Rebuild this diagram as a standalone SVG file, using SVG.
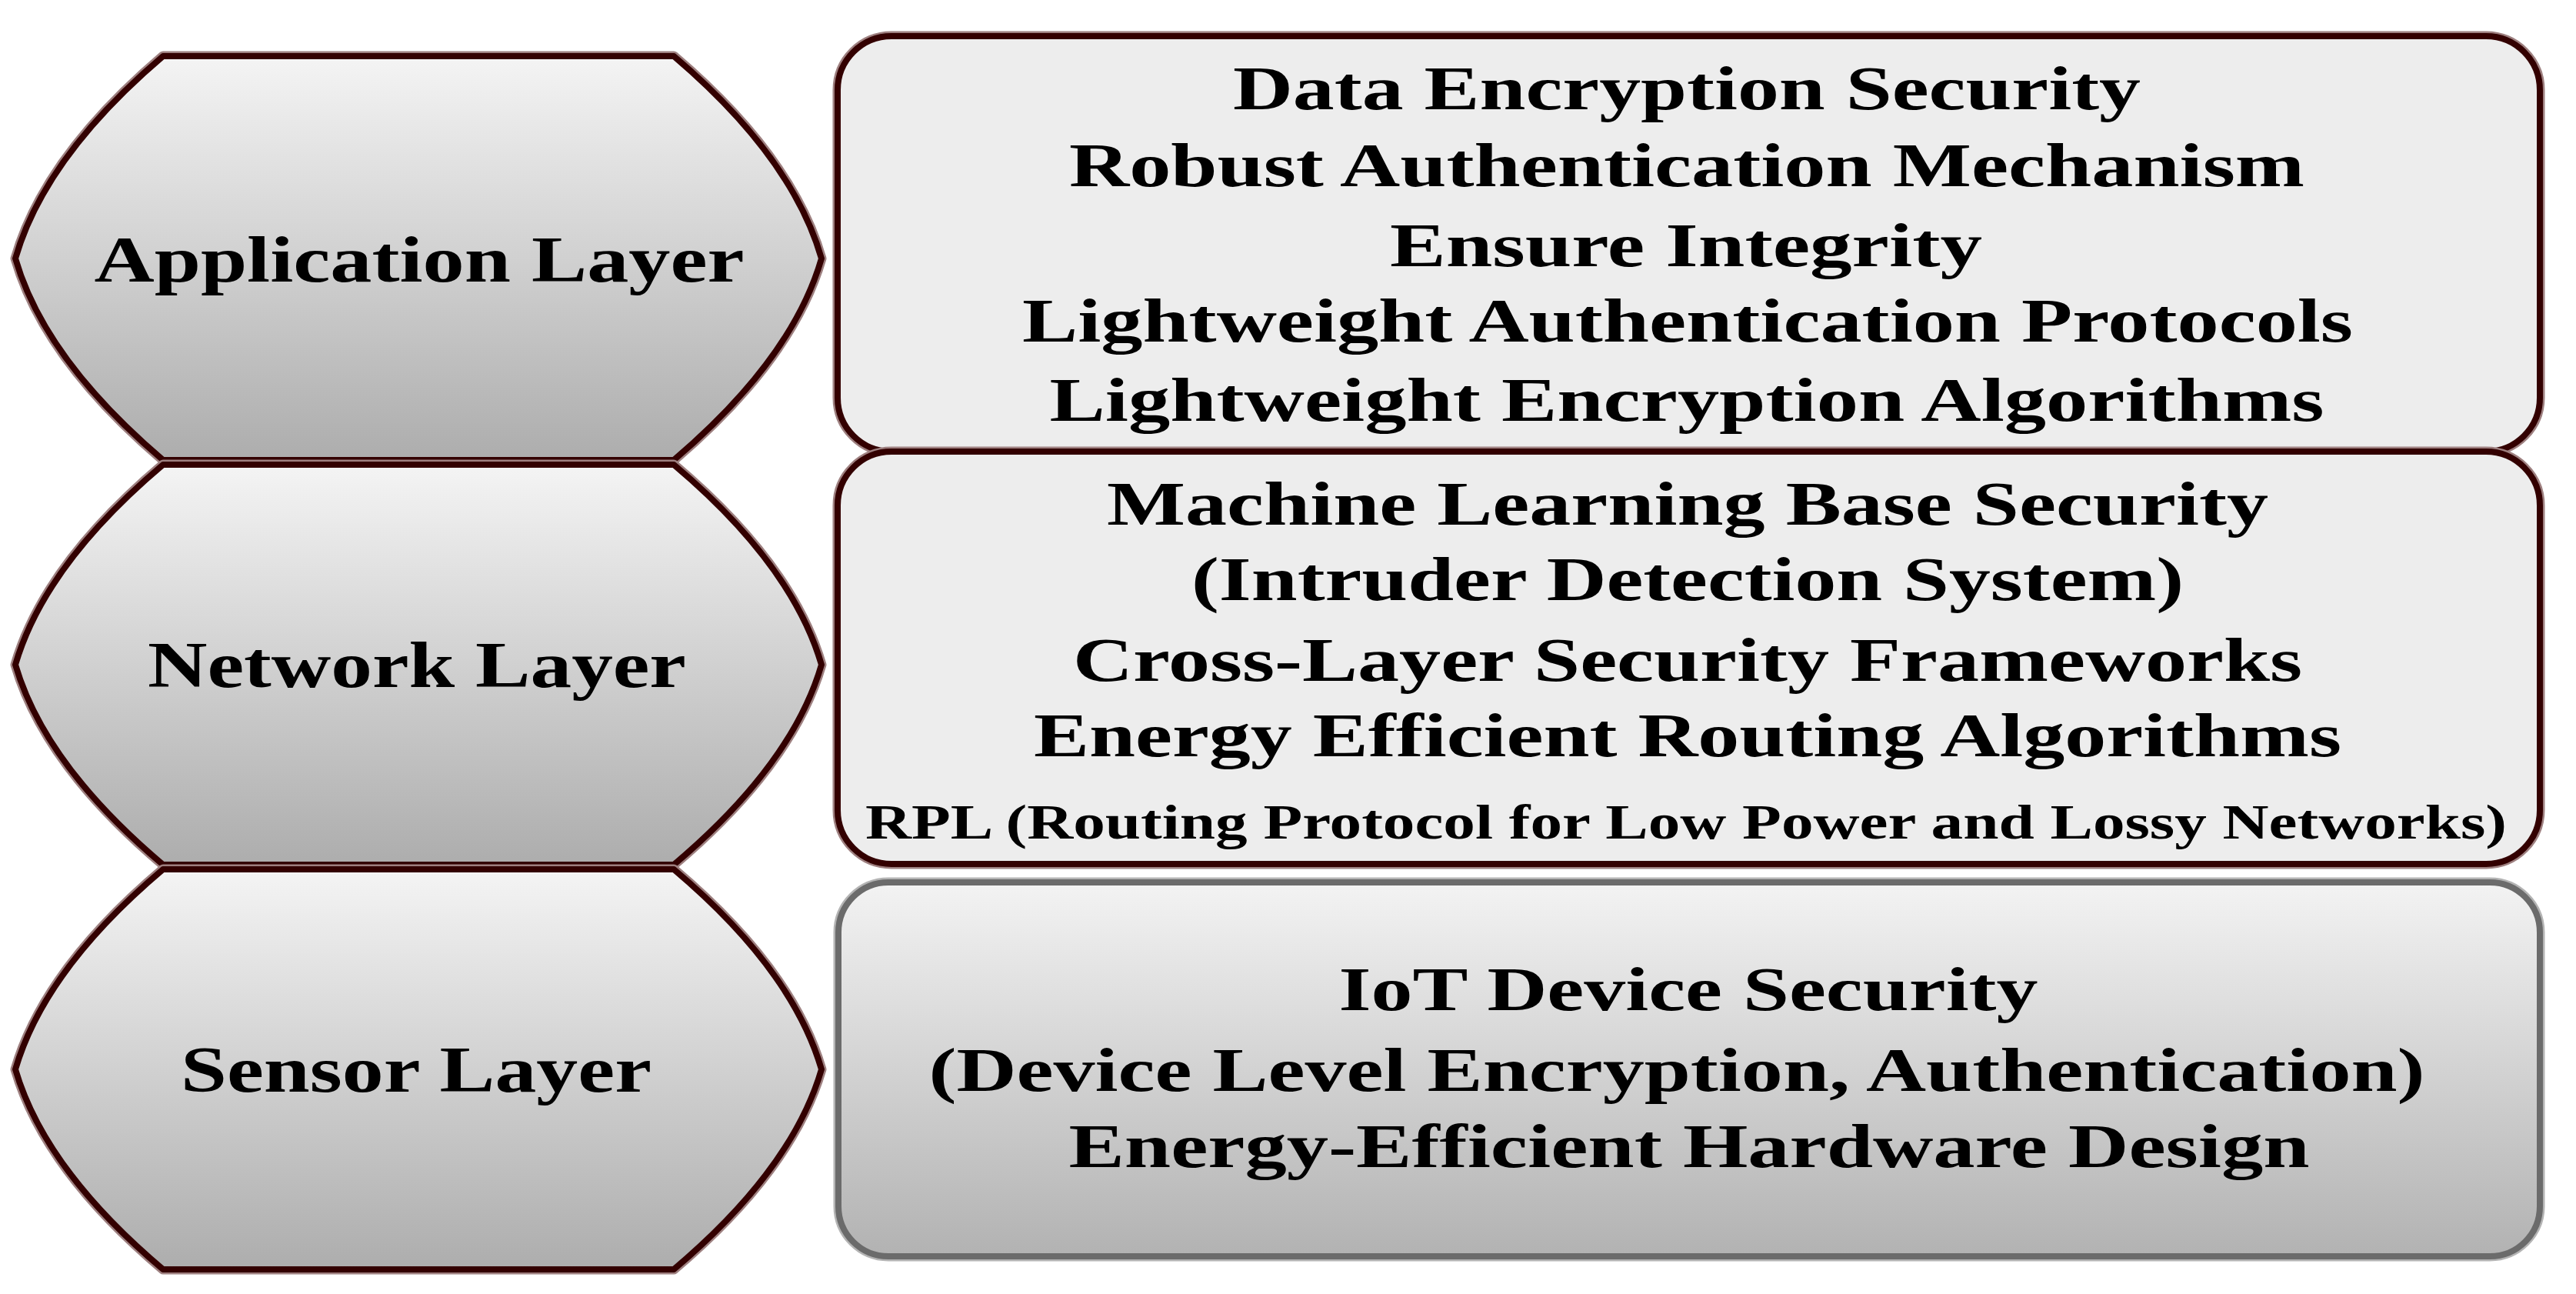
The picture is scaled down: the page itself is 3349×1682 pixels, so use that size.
<svg xmlns="http://www.w3.org/2000/svg" xmlns:xlink="http://www.w3.org/1999/xlink" width="3349" height="1682" viewBox="0 0 3349 1682">
<defs>
<linearGradient id="gHex" x1="0" y1="0" x2="0" y2="1">
<stop offset="0" stop-color="#f4f4f4"/>
<stop offset="1" stop-color="#adadad"/>
</linearGradient>
<linearGradient id="gSens" x1="0" y1="0" x2="0" y2="1">
<stop offset="0" stop-color="#f3f3f3"/>
<stop offset="1" stop-color="#b2b2b2"/>
</linearGradient>
<style>
.hex{fill:url(#gHex);stroke:#330000;stroke-width:8;stroke-linejoin:round}
.halo{fill:none;stroke:#9e8080;stroke-width:13;stroke-linejoin:round}
.box{fill:#ededed;stroke:#330000;stroke-width:8}
.bhalo{fill:none;stroke:#9e8080;stroke-width:13}
.sbox{fill:url(#gSens);stroke:#6b6b6b;stroke-width:8}
.shalo{fill:none;stroke:#b4b4b4;stroke-width:13}
text{font-family:"Liberation Serif","Times New Roman",serif;font-weight:bold;fill:#000;text-anchor:middle}
.hl{font-size:84px}
.bl{font-size:80px}
.sm{font-size:64px}
</style>
</defs>
<rect width="3349" height="1682" fill="#ffffff"/>

<g id="app-layer">
<path class="halo" d="M212,73 L876,73 Q1030,204 1068,336 Q1030,467 876,598 L212,598 Q58,467 20,336 Q58,204 212,73 Z"/>
<path class="hex" d="M212,73 L876,73 Q1030,204 1068,336 Q1030,467 876,598 L212,598 Q58,467 20,336 Q58,204 212,73 Z"/>
<text class="hl" x="545" y="366" textLength="845" lengthAdjust="spacingAndGlyphs">Application Layer</text>
</g>

<g id="network-layer">
<path class="halo" d="M212,604 L876,604 Q1030,734 1068,864 Q1030,994 876,1124 L212,1124 Q58,994 20,864 Q58,734 212,604 Z"/>
<path class="hex" d="M212,604 L876,604 Q1030,734 1068,864 Q1030,994 876,1124 L212,1124 Q58,994 20,864 Q58,734 212,604 Z"/>
<text class="hl" x="542" y="893" textLength="700" lengthAdjust="spacingAndGlyphs">Network Layer</text>
</g>

<g id="sensor-layer">
<path class="halo" d="M212,1130 L876,1130 Q1030,1260 1068,1390 Q1030,1520 876,1650 L212,1650 Q58,1520 20,1390 Q58,1260 212,1130 Z"/>
<path class="hex" d="M212,1130 L876,1130 Q1030,1260 1068,1390 Q1030,1520 876,1650 L212,1650 Q58,1520 20,1390 Q58,1260 212,1130 Z"/>
<text class="hl" x="541" y="1419" textLength="612" lengthAdjust="spacingAndGlyphs">Sensor Layer</text>
</g>

<g id="app-box">
<rect class="bhalo" x="1089" y="47" width="2213" height="540" rx="70" ry="70"/>
<rect class="box" x="1089" y="47" width="2213" height="540" rx="70" ry="70"/>
<text class="bl" x="2193" y="142" textLength="1180" lengthAdjust="spacingAndGlyphs">Data Encryption Security</text>
<text class="bl" x="2193" y="242" textLength="1606" lengthAdjust="spacingAndGlyphs">Robust Authentication Mechanism</text>
<text class="bl" x="2192" y="346" textLength="770" lengthAdjust="spacingAndGlyphs">Ensure Integrity</text>
<text class="bl" x="2194" y="444" textLength="1730" lengthAdjust="spacingAndGlyphs">Lightweight Authentication Protocols</text>
<text class="bl" x="2193" y="547" textLength="1657" lengthAdjust="spacingAndGlyphs">Lightweight Encryption Algorithms</text>
</g>

<g id="network-box">
<rect class="bhalo" x="1089" y="587" width="2213" height="536" rx="70" ry="70"/>
<rect class="box" x="1089" y="587" width="2213" height="536" rx="70" ry="70"/>
<text class="bl" x="2194" y="682" textLength="1510" lengthAdjust="spacingAndGlyphs">Machine Learning Base Security</text>
<text class="bl" x="2194" y="780" textLength="1290" lengthAdjust="spacingAndGlyphs">(Intruder Detection System)</text>
<text class="bl" x="2194" y="885" textLength="1598" lengthAdjust="spacingAndGlyphs">Cross-Layer Security Frameworks</text>
<text class="bl" x="2194" y="983" textLength="1700" lengthAdjust="spacingAndGlyphs">Energy Efficient Routing Algorithms</text>
<text class="sm" x="2192" y="1090" textLength="2134" lengthAdjust="spacingAndGlyphs">RPL (Routing Protocol for Low Power and Lossy Networks)</text>
</g>

<g id="sensor-box">
<rect class="shalo" x="1090" y="1147" width="2212" height="486" rx="65" ry="65"/>
<rect class="sbox" x="1090" y="1147" width="2212" height="486" rx="65" ry="65"/>
<text class="bl" x="2195" y="1313" textLength="909" lengthAdjust="spacingAndGlyphs">IoT Device Security</text>
<text class="bl" x="2180" y="1418" textLength="1945" lengthAdjust="spacingAndGlyphs">(Device Level Encryption, Authentication)</text>
<text class="bl" x="2196" y="1517" textLength="1613" lengthAdjust="spacingAndGlyphs">Energy-Efficient Hardware Design</text>
</g>

<g id="connectors"></g>
</svg>
